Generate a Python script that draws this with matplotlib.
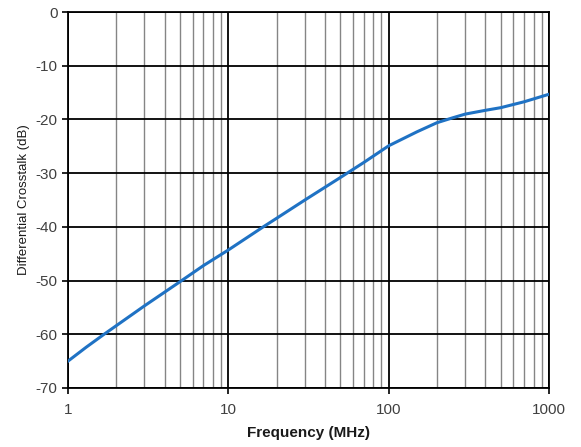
import matplotlib
matplotlib.use("Agg")
import matplotlib.pyplot as plt
from matplotlib.ticker import FixedLocator, NullFormatter

plt.rcParams["font.family"] = ["Liberation Sans", "DejaVu Sans"]
plt.rcParams["axes.unicode_minus"] = False

# crosstalk readings
freq_mhz = [1, 1.3, 1.66, 2, 3, 5, 7, 10, 16.5, 20, 30, 50, 70, 100, 150, 200, 250, 300, 400, 500, 700, 1000]
crosstalk_db = [-65.0, -62.4, -60.1, -58.4, -54.7, -50.2, -47.2, -44.3, -40.0, -38.4, -35.0,
                -30.8, -28.0, -24.9, -22.3, -20.6, -19.7, -19.0, -18.3, -17.8, -16.7, -15.3]

y_ticks = [0, -10, -20, -30, -40, -50, -60, -70]
x_ticks = [1, 10, 100, 1000]
x_tick_labels = ["1", "10", "100", "1000"]

fig = plt.figure(figsize=(5.81, 4.47), dpi=100)
ax = fig.add_axes([0.117, 0.132, 0.828, 0.841])

ax.set_xscale("log")
ax.set_xlim(1, 1000)
ax.set_ylim(-70, 0)

minor = [m * 10 ** e for e in range(3) for m in range(2, 10)]
ax.xaxis.set_major_locator(FixedLocator(x_ticks))
ax.xaxis.set_minor_locator(FixedLocator(minor))
ax.xaxis.set_minor_formatter(NullFormatter())
ax.set_xticklabels(x_tick_labels)
ax.set_yticks(y_ticks)

ax.grid(True, which="major", color="black", linewidth=1.3)
ax.grid(True, which="minor", axis="x", color="#858585", linewidth=1.0)
ax.set_axisbelow(True)

ax.plot(freq_mhz, crosstalk_db, color="#1f72c4", linewidth=2.2, zorder=3)

for s in ax.spines.values():
    s.set_color("black")
    s.set_linewidth(1.3)

ax.tick_params(axis="both", which="major", length=4, width=1.2, color="black",
               labelsize=11, labelcolor="#404040")
ax.tick_params(axis="x", which="minor", length=0)
ax.tick_params(axis="x", pad=7)

ax.set_xlabel("Frequency (MHz)", fontsize=11, fontweight="bold", color="#1a1a1a", labelpad=6)
ax.set_ylabel("Differential Crosstalk (dB)", fontsize=9.5, color="#1a1a1a", labelpad=4)

fig.savefig("out.png", dpi=100)
